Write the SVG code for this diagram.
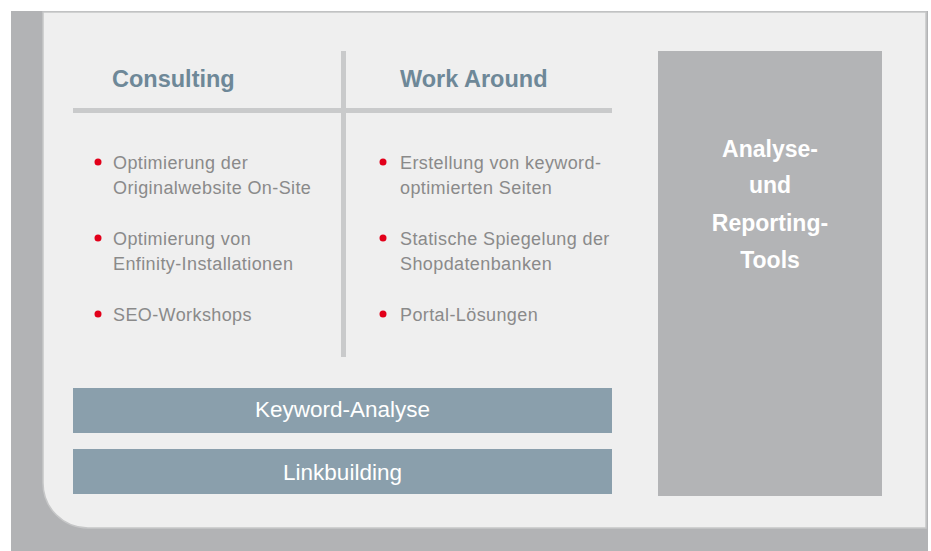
<svg xmlns="http://www.w3.org/2000/svg" width="931" height="551" viewBox="0 0 931 551">
<style>
.head{font-family:"Liberation Sans",Arial,sans-serif;font-weight:700;font-size:23.5px;fill:#6e8898}
.item{font-family:"Liberation Sans",Arial,sans-serif;font-size:18px;letter-spacing:0.4px;fill:#8a8a8a}
.bar{fill:#8a9fac}
.bartxt{font-family:"Liberation Sans",Arial,sans-serif;font-size:22.5px;fill:#ffffff;text-anchor:middle}
.side{font-family:"Liberation Sans",Arial,sans-serif;font-weight:700;font-size:23px;fill:#ffffff;text-anchor:middle}
.dot{fill:#e2001a}
.sep{fill:#c9cacb}
</style>
<rect x="11" y="11" width="917" height="540" fill="#b2b3b5"/>
<path d="M43,12 H926 V528 H88 A45,45 0 0 1 43,483 Z" fill="#efefef" stroke="#c6c7c8" stroke-width="1.5"/>
<g id="separators">
<rect class="sep" x="73" y="108" width="539" height="5"/>
<rect class="sep" x="341" y="51" width="5" height="306"/>
</g>
<g id="consulting">
<text class="head" x="112" y="87">Consulting</text>
<circle class="dot" cx="98" cy="162" r="3.5"/>
<text class="item" x="113" y="169">Optimierung der</text>
<text class="item" x="113" y="194">Originalwebsite On-Site</text>
<circle class="dot" cx="98" cy="238" r="3.5"/>
<text class="item" x="113" y="245">Optimierung von</text>
<text class="item" x="113" y="270">Enfinity-Installationen</text>
<circle class="dot" cx="98" cy="314" r="3.5"/>
<text class="item" x="113" y="321">SEO-Workshops</text>
</g>
<g id="workaround">
<text class="head" x="400" y="87">Work Around</text>
<circle class="dot" cx="383" cy="162" r="3.5"/>
<text class="item" x="400" y="169">Erstellung von keyword-</text>
<text class="item" x="400" y="194">optimierten Seiten</text>
<circle class="dot" cx="383" cy="238" r="3.5"/>
<text class="item" x="400" y="245">Statische Spiegelung der</text>
<text class="item" x="400" y="270">Shopdatenbanken</text>
<circle class="dot" cx="383" cy="314" r="3.5"/>
<text class="item" x="400" y="321">Portal-Lösungen</text>
</g>
<g id="keyword">
<rect class="bar" x="73" y="388" width="539" height="45"/>
<text class="bartxt" x="342.5" y="417">Keyword-Analyse</text>
</g>
<g id="linkbuilding">
<rect class="bar" x="73" y="449" width="539" height="45"/>
<text class="bartxt" x="342.5" y="480">Linkbuilding</text>
</g>
<g id="tools">
<rect x="658" y="51" width="224" height="445" fill="#b3b4b6"/>
<text class="side" x="770" y="157">Analyse-</text>
<text class="side" x="770" y="193">und</text>
<text class="side" x="770" y="231">Reporting-</text>
<text class="side" x="770" y="268">Tools</text>
</g>
</svg>
